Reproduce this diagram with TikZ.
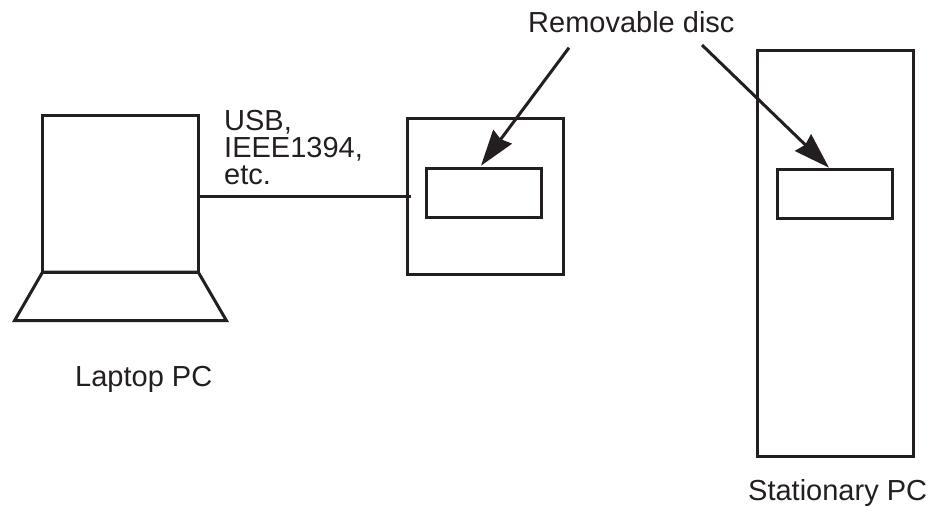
\documentclass[tikz,border=0pt]{standalone}
\usepackage{fontspec}
\setmainfont{Liberation Sans}
\usetikzlibrary{arrows.meta}
\definecolor{ink}{HTML}{231F20}
\tikzset{
  box/.style={draw=ink,line width=3pt,inner sep=0pt,outer sep=0pt},
  lbl/.style={inner sep=0pt,font=\fontsize{29pt}{30pt}\selectfont,text=ink,anchor=base west},
  conn/.style={draw=ink,line width=3pt},
  arr/.style={draw=ink,fill=ink,line width=3pt,-{Stealth[length=36pt,width=23pt,inset=3pt,color=ink]}}
}
\begin{document}
\begin{tikzpicture}[x=1pt,y=-1pt]
\useasboundingbox (0,0) rectangle (931,506);
\node[box,minimum width=155.5pt,minimum height=157pt] (screen) at (120.4,193.5) {};
\coordinate (fl) at (14.5,320.7);
\coordinate (fr) at (226.5,320.7);
\draw[conn,line join=miter] (screen.south west) -- (screen.south east) -- (fr) -- (fl) -- cycle;
\node[box,minimum width=156pt,minimum height=156pt] (drive) at (485,196) {};
\node[box,minimum width=115pt,minimum height=48.7pt] (disc1) at (484.3,193.3) {};
\node[box,minimum width=156pt,minimum height=406.5pt] (tower) at (835.7,253.7) {};
\node[box,minimum width=115pt,minimum height=48.7pt] (disc2) at (834.6,194.3) {};
\coordinate (c1) at (198,196);
\coordinate (c2) at (411,196);
\draw[conn] (c1) -- (c2);
\node[lbl] (usb) at (224,130) {USB,};
\node[lbl] (ieee) at (224,157) {IEEE1394,};
\node[lbl] (etc) at (224,184) {etc.};
\node[lbl] (rem) at (528,32) {Removable disc};
\node[lbl] (lap) at (75,386) {Laptop PC};
\node[lbl] (sta) at (748,500) {Stationary PC};
\coordinate (a1s) at (569,47.7);
\coordinate (a1e) at (481,165.7);
\coordinate (a2s) at (702,45);
\coordinate (a2e) at (829,167.7);
\draw[arr] (a1s) -- (a1e);
\draw[arr] (a2s) -- (a2e);
\end{tikzpicture}
\end{document}
